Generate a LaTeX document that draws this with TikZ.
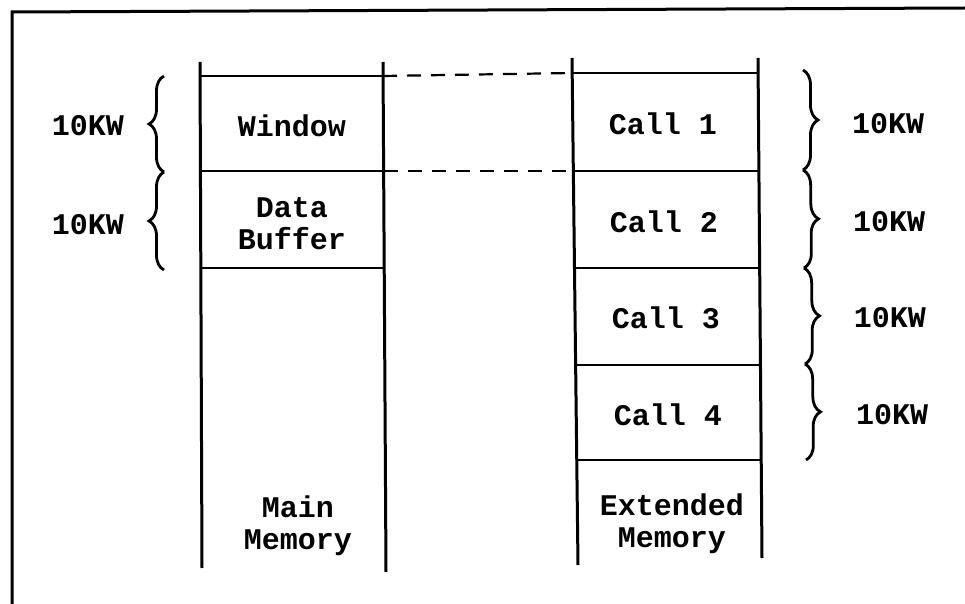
\documentclass[tikz,border=0pt]{standalone}
\usepackage{fontspec}
\setmonofont{Liberation Mono}
\usetikzlibrary{decorations.pathreplacing}
\begin{document}
\begin{tikzpicture}[x=0.5pt,y=-0.5pt,
  wall/.style={line width=1.5pt},
  rule/.style={line width=1.4pt},
  link/.style={line width=1.1pt,dash pattern=on 7pt off 5pt},
  lbl/.style={font=\fontsize{15}{16}\selectfont\ttfamily\bfseries,align=center,inner sep=0pt},
  bracel/.style={line width=1.4pt,decorate,decoration={brace,amplitude=7.5pt}},
]
\useasboundingbox (0,0) rectangle (965,604);
% frame
\draw[wall] (12,604) -- (12,12) -- (965,8);
% main memory column
\coordinate (mTL) at (200,62);
\coordinate (mBL) at (202,568);
\coordinate (mTR) at (383,62);
\coordinate (mBR) at (386,572);
\draw[wall] (mTL) -- (mBL);
\draw[wall] (mTR) -- (mBR);
\coordinate (m0l) at (200,76);  \coordinate (m0r) at (383,76);
\coordinate (m1l) at (201,171); \coordinate (m1r) at (384,171);
\coordinate (m2l) at (201,268); \coordinate (m2r) at (384,268);
\draw[rule] (m0l) -- (m0r);
\draw[rule] (m1l) -- (m1r);
\draw[rule] (m2l) -- (m2r);
% extended memory column
\coordinate (eTL) at (572,58);
\coordinate (eBL) at (578,565);
\coordinate (eTR) at (758,58);
\coordinate (eBR) at (762,558);
\draw[wall] (eTL) -- (eBL);
\draw[wall] (eTR) -- (eBR);
\coordinate (e0l) at (572,73);  \coordinate (e0r) at (758,73);
\coordinate (e1l) at (573,171); \coordinate (e1r) at (759,171);
\coordinate (e2l) at (574,268); \coordinate (e2r) at (760,268);
\coordinate (e3l) at (576,365); \coordinate (e3r) at (761,365);
\coordinate (e4l) at (577,460); \coordinate (e4r) at (762,460);
\draw[rule] (e0l) -- (e0r);
\draw[rule] (e1l) -- (e1r);
\draw[rule] (e2l) -- (e2r);
\draw[rule] (e3l) -- (e3r);
\draw[rule] (e4l) -- (e4r);
% dashed links
\draw[link] (m0r) -- (e0l);
\draw[link] (m1r) -- (e1l);
% cell labels
\node[lbl] (win) at (292,126) {Window};
\node[lbl] (buf) at (292,224) {Data\\Buffer};
\node[lbl] (mm)  at (298,526) {Main\\Memory};
\node[lbl] (c1) at (663,124) {Call 1};
\node[lbl] (c2) at (664,222) {Call 2};
\node[lbl] (c3) at (666,318) {Call 3};
\node[lbl] (c4) at (668,415) {Call 4};
\node[lbl] (em) at (672,524) {Extended\\Memory};
% left braces
\coordinate (lb0) at (164,76);
\coordinate (lb1) at (164,172);
\coordinate (lb2) at (164,270);
\draw[bracel] (lb1) -- (lb0);
\draw[bracel] (lb2) -- (lb1);
\node[lbl] (k1) at (88,126) {10KW};
\node[lbl] (k2) at (88,225) {10KW};
% right braces
\coordinate (rb0) at (803,70);
\coordinate (rb1) at (803,170);
\coordinate (rb2) at (804,268);
\coordinate (rb3) at (805,364);
\coordinate (rb4) at (806,460);
\draw[bracel] (rb0) -- (rb1);
\draw[bracel] (rb1) -- (rb2);
\draw[bracel] (rb2) -- (rb3);
\draw[bracel] (rb3) -- (rb4);
\node[lbl] (r1) at (888,124) {10KW};
\node[lbl] (r2) at (889,222) {10KW};
\node[lbl] (r3) at (890,318) {10KW};
\node[lbl] (r4) at (892,415) {10KW};
\end{tikzpicture}
\end{document}
